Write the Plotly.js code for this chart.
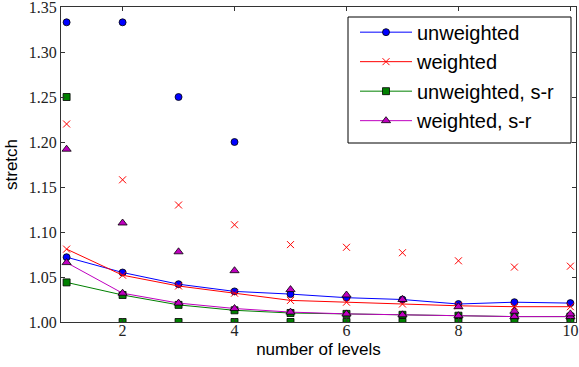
<!DOCTYPE html>
<html>
<head>
<meta charset="utf-8">
<script src="https://cdn.plot.ly/plotly-3.0.1.min.js"></script>
<style>html,body{margin:0;padding:0;background:#fff;}#chart{width:579px;height:367px;}</style>
</head>
<body>
<div id="chart"></div>
<script>
// number of levels
const levels = [1, 2, 3, 4, 5, 6, 7, 8, 9, 10];

// average stretch (connected lines)
const unweightedAvg   = [1.072, 1.055, 1.042, 1.034, 1.031, 1.027, 1.025, 1.020, 1.022, 1.021];
const weightedAvg     = [1.081, 1.052, 1.040, 1.032, 1.024, 1.022, 1.020, 1.018, 1.017, 1.017];
const unweightedSrAvg = [1.044, 1.030, 1.019, 1.013, 1.010, 1.009, 1.008, 1.007, 1.006, 1.006];
const weightedSrAvg   = [1.066, 1.032, 1.021, 1.015, 1.011, 1.009, 1.008, 1.007, 1.006, 1.006];

// maximum stretch (unconnected markers)
const unweightedMaxLevels = [1, 2, 3, 4];
const unweightedMax   = [1.333, 1.333, 1.250, 1.200];
const weightedMax     = [1.220, 1.158, 1.130, 1.108, 1.086, 1.083, 1.077, 1.068, 1.061, 1.062];
const unweightedSrMax = [1.250, 1.000, 1.000, 1.000, 1.000, 1.000, 1.000, 1.000, 1.000, 1.000];
const weightedSrMax   = [1.192, 1.110, 1.078, 1.057, 1.036, 1.030, 1.025, 1.017, 1.012, 1.009];

const names = ['unweighted', 'weighted', 'unweighted, s-r', 'weighted, s-r'];
const xTicks = [2, 4, 6, 8, 10];
const yTicks = [1.00, 1.05, 1.10, 1.15, 1.20, 1.25, 1.30, 1.35];

const styles = [
  {color: '#0000ff', symbol: 'circle', size: 7, edge: '#000000', ew: 0.8},
  {color: '#ff0000', symbol: 'x-thin-open', size: 7, edge: '#ff0000', ew: 1},
  {color: '#008000', symbol: 'square', size: 7, edge: '#000000', ew: 0.8},
  {color: '#bf00bf', symbol: 'triangle-up', size: 8, edge: '#000000', ew: 0.8}
];
const avgs = [unweightedAvg, weightedAvg, unweightedSrAvg, weightedSrAvg];
const maxs = [[unweightedMaxLevels, unweightedMax], [levels, weightedMax], [levels, unweightedSrMax], [levels, weightedSrMax]];

const traces = [];
for (let i = 0; i < 4; i++) {
  const s = styles[i];
  const marker = {symbol: s.symbol, size: s.size, color: s.color, line: {color: s.edge, width: s.ew}};
  traces.push({
    x: levels, y: avgs[i], type: 'scatter', mode: 'lines+markers', name: names[i],
    legendgroup: 'g' + i,
    line: {color: s.color, width: 1}, marker: marker, showlegend: true
  });
  traces.push({
    x: maxs[i][0], y: maxs[i][1], type: 'scatter', mode: 'markers', name: names[i] + ' max',
    legendgroup: 'g' + i,
    marker: marker, showlegend: false
  });
}

const axisCommon = {
  showline: true, linecolor: '#333', linewidth: 1, mirror: 'ticks',
  ticks: 'inside', ticklen: 4, tickcolor: '#333', tickwidth: 1,
  showgrid: false, zeroline: false, ticklabeloverflow: 'allow',
  tickfont: {family: 'Liberation Serif', size: 16, color: '#222'}
};

const layout = {
  width: 579, height: 367,
  margin: {l: 61, r: 3, t: 7, b: 45},
  paper_bgcolor: '#fff', plot_bgcolor: '#fff',
  xaxis: Object.assign({}, axisCommon, {
    range: [0.9, 10.1], tickvals: xTicks, ticktext: xTicks.map(String),
    ticklabelstandoff: -6,
    title: {text: 'number of levels', font: {family: 'Liberation Sans, Arial, sans-serif', size: 17, color: '#000'}, standoff: 4}
  }),
  yaxis: Object.assign({}, axisCommon, {
    range: [1.0, 1.35], tickvals: yTicks, ticktext: yTicks.map(v => v.toFixed(2)),
    title: {text: 'stretch', font: {family: 'Liberation Sans, Arial, sans-serif', size: 17, color: '#000'}, standoff: 6}
  }),
  shapes: [{
    type: 'rect', xref: 'paper', yref: 'paper', layer: 'above',
    x0: (348 - 61) / 515, x1: (571 - 61) / 515,
    y0: 1 - (143 - 7) / 315, y1: 1 - (17 - 7) / 315,
    line: {color: '#000', width: 1}, fillcolor: 'rgba(0,0,0,0)'
  }],
  legend: {
    x: (355 - 61) / 515, xanchor: 'left', y: 0.982, yanchor: 'top',
    bgcolor: 'rgba(255,255,255,0)', borderwidth: 0,
    font: {family: 'Liberation Sans, Arial, sans-serif', size: 20, color: '#000'},
    tracegroupgap: 0.5, itemwidth: 52
  },
  showlegend: true
};

Plotly.newPlot('chart', traces, layout, {displayModeBar: false, staticPlot: true});
</script>
</body>
</html>
